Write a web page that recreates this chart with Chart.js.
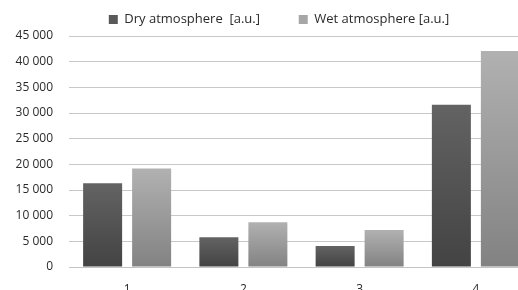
<!DOCTYPE html>
<html>
<head>
<meta charset="utf-8">
<script src="https://cdn.jsdelivr.net/npm/chart.js@4.4.1/dist/chart.umd.min.js"></script>
<style>
  html, body { margin: 0; padding: 0; background: #fff; overflow: hidden; }
  #wrap { width: 518px; height: 290px; overflow: hidden; }
  canvas { display: block; }
</style>
</head>
<body>
<div id="wrap"><canvas id="chart" width="534" height="300"></canvas></div>
<script>
  // data
  const categories = ['1', '2', '3', '4'];
  const dryValues = [16300, 5800, 4100, 31600];
  const wetValues = [19200, 8700, 7200, 42100];
  const seriesLabels = ['Dry atmosphere  [a.u.]', 'Wet atmosphere [a.u.]'];
  const yMax = 45000;
  const yStep = 5000;

  const fmt = v => String(v).replace(/\B(?=(\d{3})+(?!\d))/g, ' ');

  // vertical gradient per bar, light at top
  const barFill = (top, bottom) => (ctx) => {
    const chart = ctx.chart;
    if (!chart.chartArea || ctx.type !== 'data') return top;
    const y = chart.scales.y;
    const yTop = y.getPixelForValue(ctx.raw);
    const yBot = y.getPixelForValue(0);
    if (!isFinite(yTop) || yBot - yTop < 1) return top;
    const g = chart.ctx.createLinearGradient(0, yTop, 0, yBot);
    g.addColorStop(0, top);
    g.addColorStop(1, bottom);
    return g;
  };

  const legendColors = ['#595959', '#a6a6a6'];

  // nudge the legend to the right like the original
  const legendShift = {
    id: 'legendShift',
    afterLayout(chart) {
      if (chart.legend) { chart.legend.left += 12; chart.legend.right += 12; }
    }
  };

  new Chart(document.getElementById('chart'), {
    type: 'bar',
    data: {
      labels: categories,
      datasets: [
        { label: seriesLabels[0], data: dryValues, backgroundColor: barFill('#636363', '#434343'),
          categoryPercentage: 0.843, barPercentage: 0.796 },
        { label: seriesLabels[1], data: wetValues, backgroundColor: barFill('#b1b1b1', '#828282'),
          categoryPercentage: 0.843, barPercentage: 0.796 }
      ]
    },
    options: {
      responsive: false,
      animation: false,
      layout: { padding: { top: 8, left: 0, right: 0, bottom: 0 } },
      plugins: {
        tooltip: { enabled: false },
        legend: {
          position: 'top',
          labels: {
            font: { family: 'Open Sans', size: 13 },
            color: '#2a2a2a',
            boxWidth: 9,
            boxHeight: 9,
            padding: 5,
            generateLabels: (chart) => chart.data.datasets.map((ds, i) => ({
              text: ds.label + (i < chart.data.datasets.length - 1 ? '          ' : ''),
              fillStyle: legendColors[i],
              strokeStyle: legendColors[i],
              lineWidth: 0,
              datasetIndex: i,
              hidden: false,
              fontColor: '#2a2a2a'
            }))
          }
        }
      },
      scales: {
        x: {
          grid: { display: false, drawTicks: false },
          border: { display: true, color: '#c4c4c4' },
          ticks: { font: { family: 'Open Sans', size: 12 }, color: '#2a2a2a', padding: 15 },
          afterFit: s => { s.height = 33; }
        },
        y: {
          min: 0,
          max: yMax,
          grid: { color: '#c8c8c8', drawTicks: false },
          border: { display: false },
          ticks: {
            stepSize: yStep,
            font: { family: 'Open Sans', size: 12 },
            color: '#2a2a2a',
            padding: 16,
            callback: v => fmt(v)
          },
          afterFit: s => { s.width = 69; }
        }
      }
    },
    plugins: [legendShift]
  });
</script>
</body>
</html>
